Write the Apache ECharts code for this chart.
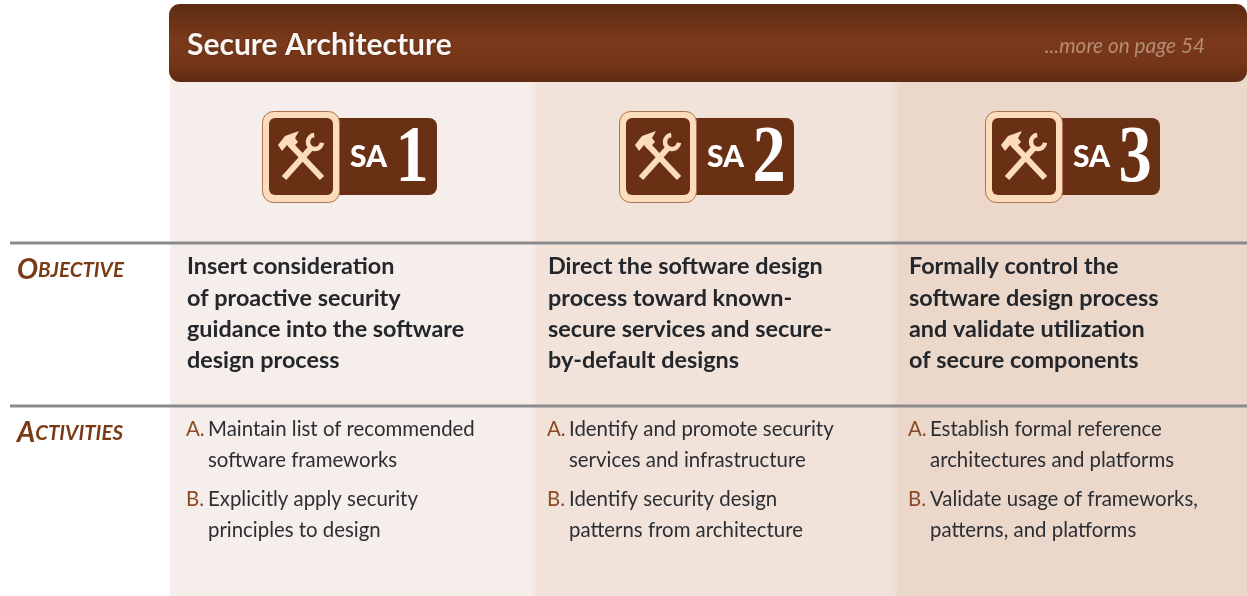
<!DOCTYPE html>
<html>
<head>
<meta charset="utf-8">
<style>html,body{margin:0;padding:0;background:#fff}#chart{width:1247px;height:596px}</style>
<script src="https://cdn.jsdelivr.net/npm/echarts@6/dist/echarts.min.js"></script>
</head>
<body>
<div id="chart"></div>
<script>
var title = 'Secure Architecture'
var moreText = '...more on page 54'
var levels = ['1', '2', '3']
var rowLabels = [['O', 'BJECTIVE'], ['A', 'CTIVITIES']]
var objectives = [
    ['Insert consideration', 'of proactive security', 'guidance into the software', 'design process'],
    ['Direct the software design', 'process toward known-', 'secure services and secure-', 'by-default designs'],
    ['Formally control the', 'software design process', 'and validate utilization', 'of secure components']
]
var activities = [
    [['A.', 'Maintain list of recommended', 'software frameworks'], ['B.', 'Explicitly apply security', 'principles to design']],
    [['A.', 'Identify and promote security', 'services and infrastructure'], ['B.', 'Identify security design', 'patterns from architecture']],
    [['A.', 'Establish formal reference', 'architectures and platforms'], ['B.', 'Validate usage of frameworks,', 'patterns, and platforms']]
]

var brown = '#6a3014'
var cream = '#fcdcbc'
var columnX = [170, 531, 892]
var columnEnd = [531, 892, 1247]
var columnFade = [['#f6f0ec', '#f5eeea'], ['#f6ece6', '#f1e3da'], ['#f1e3da', '#ebd8cb']]
var badgeX = [262, 619, 985]
var textX = [187, 548, 909]
var elements = []

function text(x, y, str, size, weight, color, extra) {
    var style = { x: x, y: y, text: str, fontFamily: 'Lato', fontSize: size, fontWeight: weight, fill: color, textVerticalAlign: 'middle' }
    for (var k in extra) style[k] = extra[k]
    return { type: 'text', z: 5, style: style }
}

// column backgrounds
columnX.forEach(function(x, i) {
    elements.push({
        type: 'rect', z: 0,
        shape: { x: x, y: 70, width: columnEnd[i] - x, height: 526 },
        style: { fill: new echarts.graphic.LinearGradient(0, 0, 0.02, 0, [
            { offset: 0, color: columnFade[i][0] }, { offset: 1, color: columnFade[i][1] }
        ]) }
    })
})

// header bar
elements.push({
    type: 'rect', z: 2,
    shape: { x: 169, y: 4, width: 1078, height: 78, r: [11, 11, 11, 11] },
    style: { fill: new echarts.graphic.LinearGradient(0, 0, 0, 1, [
        { offset: 0, color: '#5c2b11' }, { offset: 0.45, color: '#7a391a' },
        { offset: 0.75, color: '#753618' }, { offset: 1, color: '#5c2b11' }
    ]) }
})
elements.push(text(187, 45, title, 30, 700, '#fbf6f2', { textShadowColor: '#3c1a08', textShadowBlur: 2 }))
elements.push(text(1205, 46, moreText, 20.8, 400, '#b58d75', { fontStyle: 'italic', textAlign: 'right' }))

// rules
;[243, 406].forEach(function(y) {
    elements.push({ type: 'rect', z: 3, shape: { x: 10, y: y - 1.5, width: 1237, height: 3 }, style: { fill: '#8b8b8d' } })
})

// row labels
rowLabels.forEach(function(label, i) {
    elements.push({
        type: 'text', z: 5,
        style: {
            x: 17, y: [270, 433][i], textVerticalAlign: 'middle',
            rich: {
                a: { fontFamily: 'Lato', fontSize: 28, fontWeight: 700, fontStyle: 'italic', fill: '#7a3a14' },
                b: { fontFamily: 'Lato', fontSize: 20.5, fontWeight: 700, fontStyle: 'italic', fill: '#7a3a14' }
            },
            text: '{a|' + label[0] + '}{b|' + label[1] + '}'
        }
    })
})

// badges
levels.forEach(function(level, i) {
    var handle = { stroke: cream, lineWidth: 6, lineCap: 'butt' }
    var children = [
        { type: 'rect', shape: { x: 60, y: 7, width: 115, height: 77, r: 8 }, style: { fill: brown } },
        { type: 'rect', shape: { x: 0.5, y: 0.5, width: 77, height: 91, r: 11 }, style: { fill: cream, stroke: '#a9744f', lineWidth: 1 } },
        { type: 'rect', shape: { x: 7, y: 7, width: 64, height: 77, r: 6 }, style: { fill: brown } },
        // hammer
        { type: 'line', shape: { x1: 28, y1: 33, x2: 60, y2: 67 }, style: handle },
        { type: 'polygon', shape: { points: [[16, 34], [23, 25], [37, 20], [33, 27], [36, 31], [29, 38], [25, 34], [20, 40]] }, style: { fill: cream } },
        // wrench
        { type: 'line', shape: { x1: 22, y1: 67, x2: 49, y2: 37 }, style: handle },
        { type: 'arc', shape: { cx: 53, cy: 31, r: 7, startAngle: 0.1, endAngle: 4.6, clockwise: true }, style: { stroke: cream, lineWidth: 4.5, fill: 'none' } },
        { type: 'text', style: { x: 88, y: 46, text: 'SA', fontFamily: 'Lato', fontSize: 30, fontWeight: 900, fill: '#fff', textVerticalAlign: 'middle' } },
        { type: 'text', x: 150, y: 49, scaleX: 0.82, style: { x: 0, y: 0, text: level, fontFamily: 'Liberation Serif', fontSize: 81, fontWeight: 700, fill: '#fff', textAlign: 'center', textVerticalAlign: 'middle' } }
    ]
    elements.push({ type: 'group', z: 4, x: badgeX[i], y: 111, children: children })
})

// objective text
var objectiveY = [266, 298, 329, 360]
objectives.forEach(function(lines, i) {
    lines.forEach(function(line, j) {
        elements.push(text(textX[i], objectiveY[j], line, 23.4, 700, '#23262b'))
    })
})

// activities text
var activityY = [[429, 460], [499, 530]]
activities.forEach(function(items, i) {
    items.forEach(function(item, j) {
        elements.push(text(textX[i] - 1, activityY[j][0], item[0], 20.4, 400, '#8a4a24'))
        elements.push(text(textX[i] + 21, activityY[j][0], item[1], 20.4, 400, '#2b2e33'))
        elements.push(text(textX[i] + 21, activityY[j][1], item[2], 20.4, 400, '#2b2e33'))
    })
})

var myChart = echarts.init(document.getElementById('chart'), null, { renderer: 'canvas' })
myChart.setOption({
    backgroundColor: '#fff',
    animation: false,
    graphic: { elements: elements }
})
</script>
</body>
</html>
